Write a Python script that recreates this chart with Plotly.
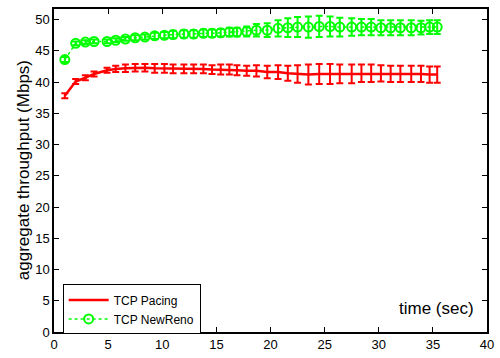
import plotly.graph_objects as go

time_s = [1.0, 2.0, 2.9, 3.7, 4.9, 5.7, 6.6, 7.5, 8.4, 9.3, 10.2, 11.0, 12.0, 12.9,
          13.8, 14.6, 15.4, 16.2, 16.9, 17.8, 18.7, 19.7, 20.7, 21.6, 22.5, 23.5,
          24.5, 25.5, 26.4, 27.5, 28.4, 29.3, 30.2, 31.1, 32.0, 33.0, 33.9, 34.7, 35.4]

pacing = [37.8, 40.1, 40.7, 41.3, 41.9, 42.1, 42.2, 42.3, 42.3, 42.2, 42.2, 42.1, 42.1,
          42.1, 42.1, 42.0, 42.0, 42.0, 41.9, 41.8, 41.8, 41.6, 41.6, 41.4, 41.3, 41.2,
          41.3, 41.3, 41.3, 41.3, 41.4, 41.4, 41.4, 41.3, 41.3, 41.3, 41.3, 41.2, 41.2]
pacing_err = [0.4, 0.4, 0.4, 0.4, 0.4, 0.5, 0.6, 0.6, 0.6, 0.7, 0.7, 0.7, 0.7, 0.7, 0.7,
              0.7, 0.8, 0.8, 0.8, 0.8, 0.9, 1.0, 1.1, 1.2, 1.4, 1.6, 1.6, 1.6, 1.5, 1.5,
              1.4, 1.4, 1.3, 1.3, 1.3, 1.3, 1.3, 1.3, 1.3]

newreno = [43.6, 46.2, 46.4, 46.5, 46.5, 46.7, 46.9, 47.1, 47.2, 47.4, 47.5, 47.6, 47.7,
           47.7, 47.8, 47.8, 47.9, 48.0, 48.0, 48.1, 48.3, 48.3, 48.6, 48.7, 48.8, 48.8,
           48.9, 48.9, 48.8, 48.8, 48.8, 48.8, 48.7, 48.7, 48.7, 48.7, 48.7, 48.8, 48.8]
newreno_err = [0.4, 0.3, 0.3, 0.3, 0.3, 0.3, 0.3, 0.4, 0.4, 0.5, 0.5, 0.6, 0.6, 0.6, 0.6,
               0.6, 0.6, 0.7, 0.7, 0.8, 1.0, 1.1, 1.3, 1.5, 1.6, 1.7, 1.7, 1.6, 1.5, 1.4,
               1.3, 1.3, 1.2, 1.2, 1.2, 1.2, 1.1, 1.1, 1.1]

x_ticks = [0, 5, 10, 15, 20, 25, 30, 35, 40]
y_ticks = [0, 5, 10, 15, 20, 25, 30, 35, 40, 45, 50]

RED = "#ff0000"
GREEN = "#00ff00"
FONT = "Liberation Sans, Arial, sans-serif"

fig = go.Figure()
fig.add_trace(go.Scatter(
    x=time_s, y=pacing, mode="lines", name="TCP Pacing",
    line=dict(color=RED, width=2.5),
    error_y=dict(type="data", array=pacing_err, color=RED, thickness=2, width=3.5),
))
fig.add_trace(go.Scatter(
    x=time_s, y=newreno, mode="lines+markers", name="TCP NewReno",
    line=dict(color=GREEN, width=1.5, dash="dot"),
    marker=dict(symbol="circle-open", size=9, color=GREEN, line=dict(width=2, color=GREEN)),
    error_y=dict(type="data", array=newreno_err, color=GREEN, thickness=2, width=3.5),
))

axis_common = dict(
    showline=True, linecolor="black", linewidth=1.5, mirror="ticks",
    ticks="inside", ticklen=5, tickcolor="black", tickwidth=1,
    showgrid=False, zeroline=False,
    tickfont=dict(family=FONT, size=13, color="black"),
)
fig.update_xaxes(range=[0, 40], tickvals=x_ticks, **axis_common)
fig.update_yaxes(range=[0, 51.7], tickvals=y_ticks, **axis_common)

fig.update_layout(
    width=500, height=358,
    margin=dict(l=54, r=6, t=9, b=17),
    paper_bgcolor="white", plot_bgcolor="white",
    font=dict(family=FONT, color="black"),
    showlegend=True,
    legend=dict(
        x=0.02, y=0.07, xanchor="left", yanchor="middle",
        bordercolor="black", borderwidth=1, bgcolor="white",
        font=dict(family=FONT, size=12, color="black"),
        tracegroupgap=0, itemwidth=40,
    ),
    annotations=[
        dict(text="time (sec)", xref="paper", yref="paper", x=0.975, y=0.072,
             xanchor="right", yanchor="middle", showarrow=False,
             font=dict(family=FONT, size=17, color="black")),
        dict(text="aggregate throughput (Mbps)", xref="paper", yref="paper",
             x=-0.07, y=0.5, xanchor="center", yanchor="middle", textangle=-90,
             showarrow=False, font=dict(family=FONT, size=17, color="black")),
    ],
)

fig.write_html("out.html")
